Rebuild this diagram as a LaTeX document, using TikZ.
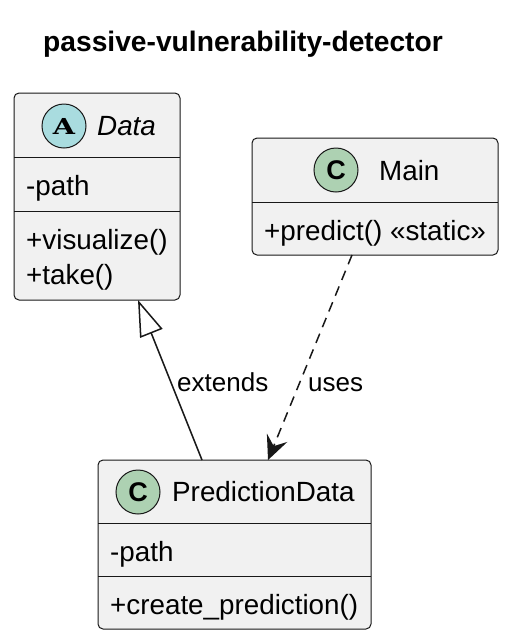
\documentclass[tikz,border=0pt]{standalone}
\usepackage{fontspec}
\setmainfont{Liberation Sans}
\newfontfamily\spotserif{DejaVu Serif}
\usetikzlibrary{arrows.meta}
\definecolor{boxfill}{HTML}{F1F1F1}
\definecolor{boxline}{HTML}{181818}
\definecolor{abstractfill}{HTML}{A9DCDF}
\definecolor{classfill}{HTML}{ADD1B2}
\begin{document}
\begin{tikzpicture}[x=1pt,y=-1pt,
  classbox/.style={draw=boxline, fill=boxfill, line width=1pt, rounded corners=5pt, inner sep=0pt, outer sep=0pt},
  sepline/.style={draw=boxline, line width=1pt},
  spot/.style={circle, draw=boxline, line width=1pt, minimum size=44pt, inner sep=0pt},
  memb/.style={anchor=base west, inner sep=0pt, text=black, font=\fontsize{27.8}{32}\selectfont},
  cname/.style={anchor=base west, inner sep=0pt, text=black, font=\fontsize{27.8}{32}\selectfont},
  cnameit/.style={anchor=base west, inner sep=0pt, text=black, font=\itshape\fontsize{27.8}{32}\selectfont},
  lbl/.style={anchor=base west, inner sep=0pt, text=black, font=\fontsize{26}{30}\selectfont},
  extline/.style={draw=boxline, line width=1.5pt, -{Triangle[open, length=36pt, width=24pt, line width=1.5pt]}},
  useline/.style={draw=boxline, line width=1.5pt, dash pattern=on 10pt off 7pt, -{Stealth[length=24pt, width=22pt, inset=9pt]}}
]
\useasboundingbox (0,0) rectangle (510,641);
\fill[white] (0,0) rectangle (510,641);

% title
\node[anchor=base west, inner sep=0pt, font=\bfseries\fontsize{28.2}{32}\selectfont] (title) at (43,51.5) {passive-vulnerability-detector};

% Data (abstract)
\node[classbox, minimum width=166pt, minimum height=207pt] (data) at (97,196.5) {};
\draw[sepline] (data.west |- 0,157) -- (data.east |- 0,157);
\draw[sepline] (data.west |- 0,211) -- (data.east |- 0,211);
\node[spot, fill=abstractfill] (dataspot) at (64,126) {\spotserif\bfseries\fontsize{22}{22}\selectfont\scalebox{1.3}[1]{A}};
\node[cnameit] (dataname) at (97,135) {Data};
\node[memb] (datapath) at (26,195) {-path};
\node[memb] (datavis) at (26,249) {+visualize()};
\node[memb] (datatake) at (26,284) {+take()};

% Main
\node[classbox, minimum width=246pt, minimum height=117pt] (main) at (375,196.5) {};
\draw[sepline] (main.west |- 0,202) -- (main.east |- 0,202);
\node[spot, fill=classfill] (mainspot) at (336,170) {\bfseries\fontsize{27}{27}\selectfont C};
\node[cname] (mainname) at (379,180) {Main};
\node[memb] (mainpred) at (264,240) {+predict() «static»};

% PredictionData
\node[classbox, minimum width=273pt, minimum height=169pt] (pd) at (234.5,544.5) {};
\draw[sepline] (pd.west |- 0,523) -- (pd.east |- 0,523);
\draw[sepline] (pd.west |- 0,576) -- (pd.east |- 0,576);
\node[spot, fill=classfill] (pdspot) at (138,492) {\bfseries\fontsize{27}{27}\selectfont C};
\node[cname] (pdname) at (172,501) {PredictionData};
\node[memb] (pdpath) at (110,561) {-path};
\node[memb] (pdcreate) at (110,614) {+create\_prediction()};

% connectors
\draw[extline] (pd.north -| 202,0) -- (data.south -| 138,0);
\draw[useline] (main.south -| 352,0) -- (pd.north -| 268,0);
\node[lbl] (extlbl) at (177,391) {extends};
\node[lbl] (uselbl) at (308,391) {uses};
\end{tikzpicture}
\end{document}
